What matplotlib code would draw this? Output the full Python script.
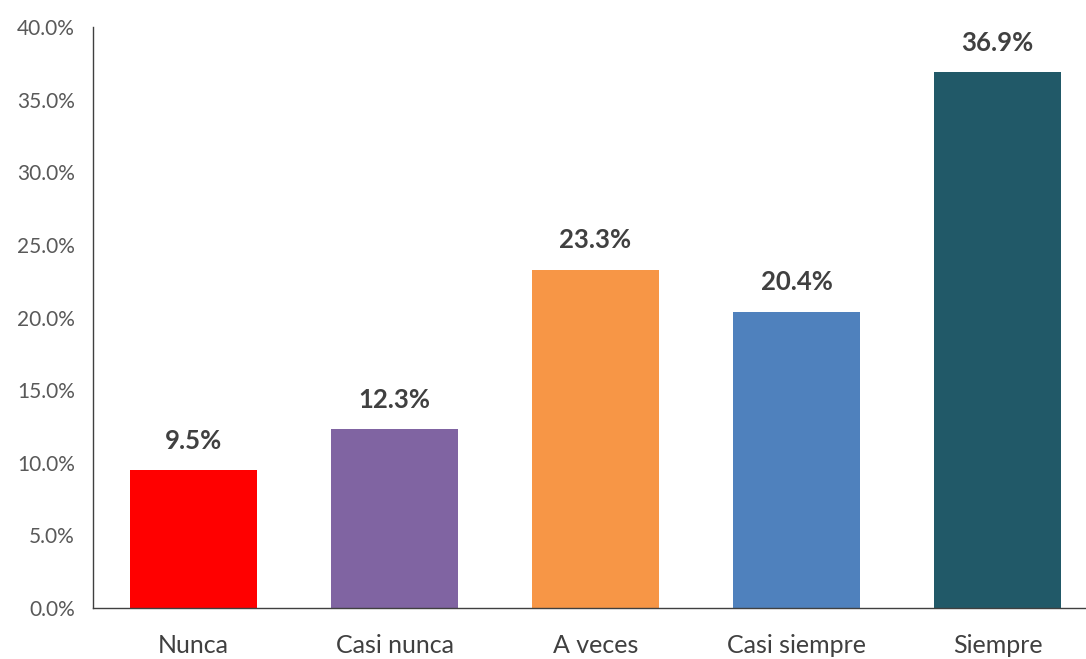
from matplotlib import pyplot as plt
from matplotlib.ticker import PercentFormatter

plt.rcParams['font.family'] = ['Lato', 'DejaVu Sans']

# data
categories = ['Nunca', 'Casi nunca', 'A veces', 'Casi siempre', 'Siempre']
values = [9.5, 12.3, 23.3, 20.4, 36.9]
colors = ['#FF0000', '#8064A2', '#F79646', '#4F81BD', '#215968']

fig = plt.figure(figsize=(10.86, 6.59), dpi=100)
ax = fig.add_axes([93/1086, 1 - 608/659, (1086 - 93)/1086, (608 - 27)/659])

x = range(len(categories))
bars = ax.bar(x, values, width=0.63, color=colors)

# value labels above bars
for bar, v in zip(bars, values):
    ax.text(bar.get_x() + bar.get_width()/2, v + 1.2, f'{v:.1f}%',
            ha='center', va='bottom', fontsize=18.5, fontweight='bold', color='#404040')

ax.set_ylim(0, 40)
ax.set_xlim(-0.5, 4.44)
ax.set_yticks(range(0, 41, 5))
ax.yaxis.set_major_formatter(PercentFormatter(decimals=1))
ax.set_xticks(list(x))
ax.set_xticklabels(categories)

ax.tick_params(axis='y', length=0, labelsize=15, labelcolor='#595959', pad=13)
ax.tick_params(axis='x', length=0, labelsize=18, labelcolor='#404040', pad=19)

for s in ['top', 'right']:
    ax.spines[s].set_visible(False)
for s in ['left', 'bottom']:
    ax.spines[s].set_color('#404040')
    ax.spines[s].set_linewidth(1)

fig.savefig('out.png', dpi=100)
